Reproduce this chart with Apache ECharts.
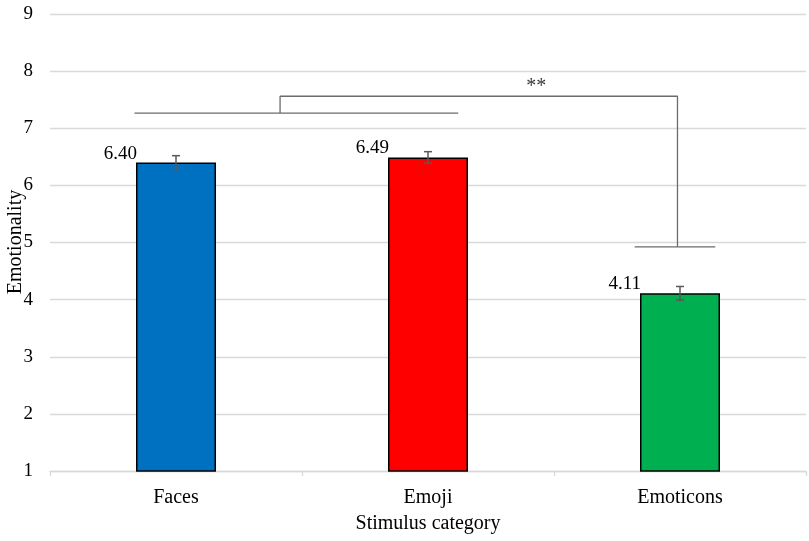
<!DOCTYPE html>
<html>
<head>
<meta charset="utf-8">
<script src="https://cdn.jsdelivr.net/npm/echarts@6/dist/echarts.min.js"></script>
<style>
  html, body { margin: 0; padding: 0; background: #fff; }
  #chart { width: 809px; height: 541px; }
</style>
</head>
<body>
<div id="chart"></div>
<script>
	'use strict'
	/*--data--*/
	var categories = ['Faces', 'Emoji', 'Emoticons'];
	var means = [6.40, 6.49, 4.11];
	var errors = [0.12, 0.10, 0.12];
	var barColors = ['#0070C0', '#FF0000', '#00B050'];
	var yTicks = [1, 9, 1]; // min, max, step

	// significance bracket, in category-index / value units
	var bracketLeft = [[-0.165, 7.265], [1.12, 7.265]];
	var bracketTop = [[0.413, 7.265], [0.413, 7.56], [1.99, 7.56], [1.99, 4.925]];
	var bracketRight = [[1.82, 4.925], [2.14, 4.925]];
	var starMark = [[1.43, 7.72]];
	/*--data--*/

	var font = '"Times New Roman", "Liberation Serif", serif';
	var lineGray = '#6b6b6b';

	var barData = means.map(function(v, i) {
		return {
			value: v,
			itemStyle: { color: barColors[i] }
		};
	});
	var errData = means.map(function(v, i) {
		return [i, v - errors[i], v + errors[i]];
	});

	function bracketSeries(points) {
		return {
			type: 'line',
			xAxisIndex: 1,
			data: points,
			symbol: 'none',
			silent: true,
			animation: false,
			lineStyle: { color: lineGray, width: 1.3 },
			z: 5
		};
	}

	var chart = echarts.init(document.getElementById('chart'));
	var option = {
		animation: false,
		grid: {
			top: 14,
			right: 3,
			bottom: 70,
			left: 50,
			containLabel: false,
			outerBoundsMode: 'none'
		},
		// y-axis title drawn as a graphic so label-overlap avoidance doesn't push it off-canvas
		graphic: [{
			type: 'text',
			x: 16,
			y: 242,
			rotation: Math.PI / 2,
			style: {
				text: 'Emotionality',
				align: 'center',
				verticalAlign: 'middle',
				fontFamily: font,
				fontSize: 20,
				fill: '#000'
			}
		}],
		xAxis: [{
			type: 'category',
			data: categories,
			name: 'Stimulus category',
			nameLocation: 'middle',
			nameGap: 43,
			nameTextStyle: { fontFamily: font, fontSize: 20, color: '#000' },
			axisLine: { lineStyle: { color: '#d9d9d9', width: 1.3 } },
			axisTick: { show: true, length: 5, lineStyle: { color: '#d9d9d9', width: 1.3 } },
			axisLabel: { fontFamily: font, fontSize: 20, color: '#000', margin: 17 }
		}, {
			type: 'value',
			min: -0.5,
			max: 2.5,
			show: false
		}],
		yAxis: {
			type: 'value',
			min: yTicks[0],
			max: yTicks[1],
			interval: yTicks[2],
			axisLine: { show: false },
			axisTick: { show: false },
			axisLabel: { fontFamily: font, fontSize: 19, color: '#000', margin: 17 },
			splitLine: { lineStyle: { color: '#d9d9d9', width: 1.3 } }
		},
		series: [{
			type: 'bar',
			data: barData,
			barWidth: 80,
			itemStyle: { borderColor: '#000', borderWidth: 1.5 },
			label: {
				show: true,
				position: [1, -9],
				align: 'right',
				verticalAlign: 'middle',
				fontFamily: font,
				fontSize: 19,
				color: '#000',
				formatter: function(p) { return p.value.toFixed(2); }
			}
		}, {
			type: 'custom',
			data: errData,
			z: 10,
			renderItem: function(params, api) {
				var x = api.value(0);
				var lo = api.coord([x, api.value(1)]);
				var hi = api.coord([x, api.value(2)]);
				var cap = 4;
				var style = { stroke: '#595959', lineWidth: 1.5 };
				return {
					type: 'group',
					children: [
						{ type: 'line', shape: { x1: lo[0], y1: lo[1], x2: hi[0], y2: hi[1] }, style: style },
						{ type: 'line', shape: { x1: lo[0] - cap, y1: lo[1], x2: lo[0] + cap, y2: lo[1] }, style: style },
						{ type: 'line', shape: { x1: hi[0] - cap, y1: hi[1], x2: hi[0] + cap, y2: hi[1] }, style: style }
					]
				};
			}
		},
		bracketSeries(bracketLeft),
		bracketSeries(bracketTop),
		bracketSeries(bracketRight),
		{
			type: 'scatter',
			xAxisIndex: 1,
			data: starMark,
			symbolSize: 0,
			silent: true,
			label: {
				show: true,
				position: 'inside',
				formatter: '**',
				fontFamily: font,
				fontSize: 20,
				color: '#000'
			}
		}]
	};
	chart.setOption(option);
</script>
</body>
</html>
